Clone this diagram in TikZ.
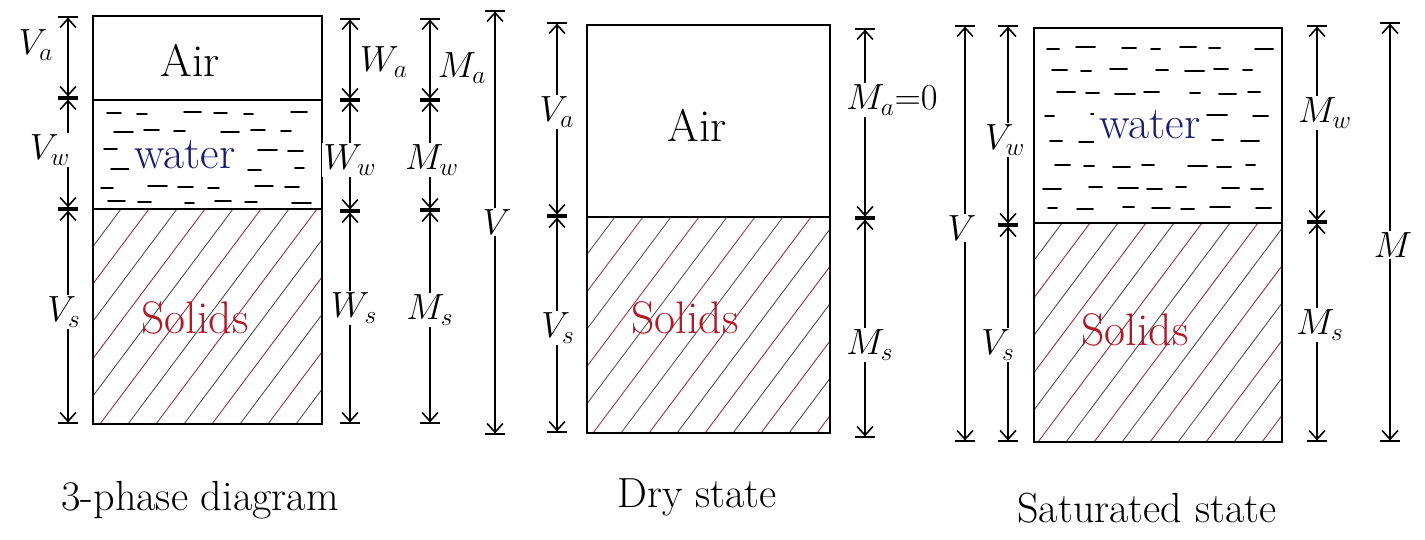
\documentclass[tikz,border=0pt]{standalone}
\usetikzlibrary{arrows.meta}
\definecolor{solidred}{RGB}{175,25,40}
\definecolor{waterblue}{RGB}{25,30,110}
\definecolor{hatchred}{RGB}{150,45,60}
\begin{document}
\begin{tikzpicture}[
    x=0.02cm, y=-0.02cm,
    phasebox/.style={line width=1.1pt},
    dimline/.style={line width=0.9pt, {Bar[width=11pt]Straight Barb[length=5pt,width=9pt]}-{Straight Barb[length=5pt,width=9pt]Bar[width=11pt]}},
    dimlabel/.style={font=\fontsize{20}{22}\selectfont, fill=white, inner sep=1pt},
    phaselabel/.style={font=\fontsize{26}{30}\selectfont},
    caption/.style={font=\fontsize{24}{28}\selectfont},
    wdash/.style={line width=1.1pt, line cap=round},
    hatchline/.style={line width=0.5pt}
]
    \useasboundingbox (0,0) rectangle (1425,540);

    % 3-phase diagram
    \begin{scope}
        \clip (93,209) rectangle (322,424);
        \foreach \x in {-68,-12,...,322} \draw[hatchline, hatchred] (\x,424) -- ++(161,-215);
        \foreach \x in {-40,16,...,322} \draw[hatchline, black!70] (\x,424) -- ++(161,-215);
    \end{scope}
    \begin{scope}
        \clip (93,100) rectangle (322,209);
        \foreach \r [count=\i] in {112,130,149,168,186,201} {
            \foreach \c in {0,...,5} {
                \pgfmathsetmacro\xo{100+36*\c+mod(7*\i+11*\c,17)}
                \pgfmathsetmacro\yo{\r+mod(\i+\c,3)}
                \pgfmathsetmacro\dl{9+mod(5*\i+7*\c,11)}
                \draw[wdash] (\xo,\yo) -- ++(\dl,0);
            }
        }
    \end{scope}
    \draw[phasebox] (93,16) rectangle (322,424);
    \draw[phasebox] (93,100) -- (322,100);
    \draw[phasebox] (93,209) -- (322,209);
    \node[phaselabel] (air1) at (190,60) {Air};
    \node[phaselabel, waterblue, fill=white, inner sep=3pt] (water1) at (185,155) {water};
    \node[phaselabel, solidred] (solid1) at (195,318) {Solids};

    \coordinate (p1va) at (68,16);
    \coordinate (p1vw) at (68,98);
    \coordinate (p1vs) at (68,209);
    \coordinate (p1vb) at (68,424);
    \coordinate (p1wa) at (350,18);
    \coordinate (p1ww) at (350,100);
    \coordinate (p1ws) at (350,211);
    \coordinate (p1wb) at (350,424);
    \coordinate (p1ma) at (430,18);
    \coordinate (p1mw) at (430,100);
    \coordinate (p1ms) at (430,210);
    \coordinate (p1mb) at (430,424);
    \foreach \a/\b in {p1va/p1vw, p1vw/p1vs, p1vs/p1vb,
                       p1wa/p1ww, p1ww/p1ws, p1ws/p1wb,
                       p1ma/p1mw, p1mw/p1ms, p1ms/p1mb}
        \draw[dimline] (\a) -- (\b);
    \node[dimlabel] (l1va) at (36,45) {$V_a$};
    \node[dimlabel] (l1vw) at (50,150) {$V_w$};
    \node[dimlabel] (l1vs) at (64,312) {$V_s$};
    \node[dimlabel] (l1wa) at (384,62) {$W_a$};
    \node[dimlabel] (l1ww) at (350,160) {$W_w$};
    \node[dimlabel] (l1ws) at (354,308) {$W_s$};
    \node[dimlabel] (l1ma) at (462,68) {$M_a$};
    \node[dimlabel] (l1mw) at (432,160) {$M_w$};
    \node[dimlabel] (l1ms) at (430,310) {$M_s$};
    \node[caption] (cap1) at (200,500) {3-phase diagram};

    % Dry state
    \begin{scope}
        \clip (587,217) rectangle (830,433);
        \foreach \x in {425,481,...,830} \draw[hatchline, hatchred] (\x,433) -- ++(162,-216);
        \foreach \x in {453,509,...,830} \draw[hatchline, black!70] (\x,433) -- ++(162,-216);
    \end{scope}
    \draw[phasebox] (587,25) rectangle (830,433);
    \draw[phasebox] (587,217) -- (830,217);
    \node[phaselabel] (air2) at (697,125) {Air};
    \node[phaselabel, solidred] (solid2) at (685,318) {Solids};

    \coordinate (p2vt) at (495,10);
    \coordinate (p2vb) at (495,435);
    \coordinate (p2va) at (557,22);
    \coordinate (p2vs) at (557,216);
    \coordinate (p2vz) at (557,433);
    \coordinate (p2ma) at (865,28);
    \coordinate (p2ms) at (865,218);
    \coordinate (p2mz) at (865,438);
    \foreach \a/\b in {p2vt/p2vb, p2va/p2vs, p2vs/p2vz, p2ma/p2ms, p2ms/p2mz}
        \draw[dimline] (\a) -- (\b);
    \node[dimlabel] (l2v) at (497,222) {$V$};
    \node[dimlabel] (l2va) at (557,112) {$V_a$};
    \node[dimlabel] (l2vs) at (558,328) {$V_s$};
    \node[dimlabel] (l2ma) at (892,100) {$M_a{=}0$};
    \node[dimlabel] (l2ms) at (870,345) {$M_s$};
    \node[caption] (cap2) at (697,497) {Dry state};

    % Saturated state
    \begin{scope}
        \clip (1034,223) rectangle (1282,442);
        \foreach \x in {870,926,...,1282} \draw[hatchline, hatchred] (\x,442) -- ++(164,-219);
        \foreach \x in {898,954,...,1282} \draw[hatchline, black!70] (\x,442) -- ++(164,-219);
    \end{scope}
    \begin{scope}
        \clip (1034,28) rectangle (1282,223);
        \foreach \r [count=\i] in {47,69,92,114,140,165,187,207} {
            \foreach \c in {0,...,6} {
                \pgfmathsetmacro\xo{1042+33*\c+mod(5*\i+13*\c,17)}
                \pgfmathsetmacro\yo{\r+mod(2*\i+\c,3)}
                \pgfmathsetmacro\dl{9+mod(3*\i+7*\c,12)}
                \draw[wdash] (\xo,\yo) -- ++(\dl,0);
            }
        }
    \end{scope}
    \draw[phasebox] (1034,28) rectangle (1282,442);
    \draw[phasebox] (1034,223) -- (1282,223);
    \node[phaselabel, waterblue, fill=white, inner sep=3pt] (water3) at (1150,125) {water};
    \node[phaselabel, solidred] (solid3) at (1135,330) {Solids};

    \coordinate (p3vt) at (965,25);
    \coordinate (p3vb) at (965,442);
    \coordinate (p3vw) at (1008,25);
    \coordinate (p3vs) at (1008,225);
    \coordinate (p3vz) at (1008,442);
    \coordinate (p3mw) at (1317,25);
    \coordinate (p3ms) at (1317,222);
    \coordinate (p3mz) at (1317,442);
    \coordinate (p3mt) at (1390,22);
    \coordinate (p3mb) at (1390,442);
    \foreach \a/\b in {p3vt/p3vb, p3vw/p3vs, p3vs/p3vz, p3mw/p3ms, p3ms/p3mz, p3mt/p3mb}
        \draw[dimline] (\a) -- (\b);
    \node[dimlabel] (l3v) at (962,228) {$V$};
    \node[dimlabel] (l3vw) at (1005,140) {$V_w$};
    \node[dimlabel] (l3vs) at (998,345) {$V_s$};
    \node[dimlabel] (l3mw) at (1325,113) {$M_w$};
    \node[dimlabel] (l3ms) at (1320,325) {$M_s$};
    \node[dimlabel] (l3m) at (1393,245) {$M$};
    \node[caption] (cap3) at (1147,508) {Saturated state};
\end{tikzpicture}
\end{document}
